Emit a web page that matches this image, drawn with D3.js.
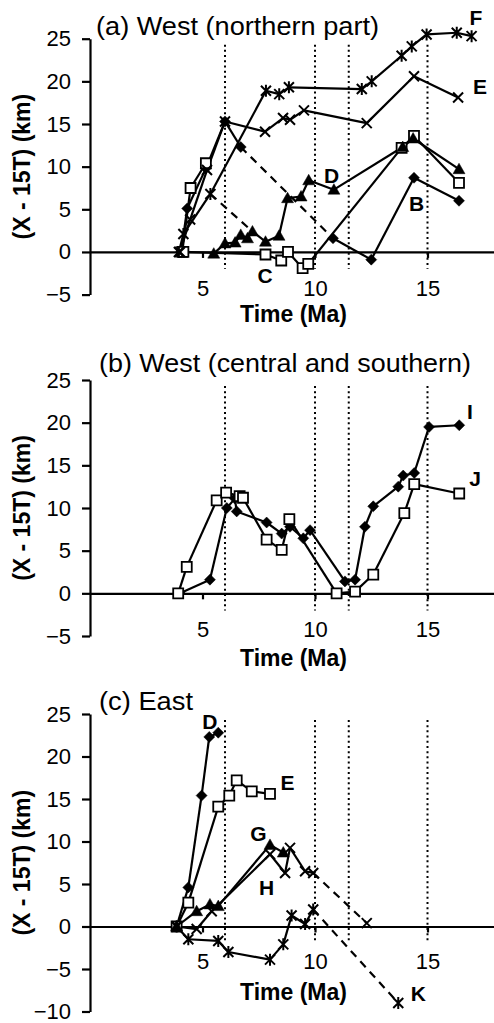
<!DOCTYPE html>
<html>
<head>
<meta charset="utf-8">
<script src="https://cdn.jsdelivr.net/npm/d3@7"></script>
<style>
  body { margin: 0; background: #fff; }
  text { font-family: "Liberation Sans", Arial, Helvetica, sans-serif; fill: #000; }
</style>
</head>
<body>
<svg width="494" height="1023"></svg>
<script>
// ---- data: [time (Ma), X - 15T (km), 1 = dashed segment from previous point]
// (a) West (northern part)
var aB = [[4.05, 0], [4.32, 5.1], [5.15, 9.8], [6.0, 15.3], [6.7, 12.3], [10.8, 1.6, 1], [12.5, -0.9], [14.4, 8.7], [16.4, 6.0]];
var aC1 = [[4.1, 0], [4.47, 7.5], [5.15, 10.4]];
var aC2 = [[4.15, 0], [7.8, -0.3], [8.5, -1.0], [8.8, 0.0], [9.45, -1.9], [9.7, -1.4], [13.85, 12.2], [14.4, 13.6], [16.4, 8.1]];
var aD = [[5.5, -0.2], [6.0, 1.0], [6.45, 1.1], [6.7, 2.0], [7.0, 1.6], [7.22, 2.4], [7.8, 1.2], [8.4, 1.9], [8.78, 6.3], [9.38, 6.5], [9.72, 8.4], [10.84, 7.3], [13.9, 12.3], [14.36, 13.3], [16.4, 9.7]];
var aE = [[4.0, 0], [4.45, 3.8], [5.2, 9.6], [6.0, 15.3], [7.78, 14.1], [8.58, 15.7], [8.89, 15.5], [9.51, 16.6], [12.3, 15.1], [14.4, 20.6], [16.36, 18.1]];
var aF = [[3.95, 0], [4.15, 2.1], [5.35, 6.8], [7.82, 18.9], [8.41, 18.5], [8.84, 19.3], [12.08, 19.1], [12.52, 20.0], [13.85, 23.0], [14.3, 24.1], [14.96, 25.5], [16.3, 25.7], [16.96, 25.3]];
var aLink = [[5.35, 6.8], [7.22, 2.4, 1]];
var aLetters = [['F', 17.15, 27.5], ['E', 17.33, 19.4], ['D', 10.74, 9.0], ['B', 14.52, 5.7], ['C', 7.78, -2.8]];

// (b) West (central and southern)
var bI = [[4.0, 0], [5.33, 1.6], [6.08, 10.0], [6.44, 11.1], [6.52, 9.6], [7.85, 8.3], [8.52, 7.0], [8.89, 7.8], [9.48, 6.45], [9.78, 7.4], [11.33, 1.4], [11.78, 1.6], [12.22, 7.8], [12.59, 10.2], [13.7, 12.5], [13.92, 13.8], [14.41, 14.1], [15.07, 19.5], [16.41, 19.7]];
var bJ = [[3.92, 0], [4.3, 3.1], [5.63, 10.9], [6.05, 11.8], [6.65, 11.4], [6.8, 11.2], [7.85, 6.3], [8.52, 5.1], [8.86, 8.7], [10.96, 0], [11.78, 0.2], [12.59, 2.2], [13.97, 9.4], [14.41, 12.8], [16.41, 11.7]];
var bLetters = [['I', 16.89, 21.3], ['J', 17.11, 13.5]];

// (c) East
var cD = [[3.85, 0], [4.37, 4.6], [4.96, 15.4], [5.3, 22.3], [5.7, 22.8]];
var cE = [[3.85, 0], [4.37, 2.8], [5.7, 14.1], [6.19, 15.4], [6.52, 17.2], [7.19, 15.9], [8.0, 15.6]];
var cG = [[3.85, 0], [4.74, 1.8], [5.33, 2.6], [5.7, 2.4], [8.0, 9.6], [8.59, 8.7]];
var cH = [[3.85, 0], [4.74, -0.3], [5.41, 1.8], [8.0, 8.5], [8.67, 6.3], [8.89, 9.25], [9.56, 6.5], [9.92, 6.3], [12.3, 0.4, 1]];
var cK = [[3.85, 0], [4.37, -1.5], [5.7, -1.7], [6.15, -3.0], [8.0, -3.9], [8.59, -2.1], [8.96, 1.3], [9.56, 0.3], [9.92, 2.0], [13.7, -9.0, 1]];
var cLetters = [['D', 5.33, 24.1], ['E', 8.78, 17.0], ['G', 7.48, 11.0], ['H', 7.85, 4.6], ['K', 14.59, -7.9]];

var eventTimes = [6, 10, 11.5, 15];
var xTicks = [5, 10, 15];

var panels = [
  { title: '(a) West (northern part)', titleX: 96, titleY: 35, titleW: 283, yDomain: [-5, 25], yRange: [294.6, 38.7], tickDy: 44, labelDy: 70,
    series: [[aB, 'diamond'], [aC1, 'square'], [aC2, 'square'], [aD, 'triangle'], [aE, 'cross'], [aF, 'asterisk'], [aLink, 'none']],
    letters: aLetters },
  { title: '(b) West (central and southern)', titleX: 99, titleY: 372, titleW: 372, yDomain: [-5, 25], yRange: [636, 380], tickDy: 44, labelDy: 73,
    series: [[bI, 'diamond'], [bJ, 'square']],
    letters: bLetters },
  { title: '(c) East', titleX: 99, titleY: 710, titleW: 94, yDomain: [-10, 25], yRange: [1011.5, 714], tickDy: 42, labelDy: 73,
    series: [[cD, 'diamond'], [cE, 'square'], [cG, 'triangle'], [cH, 'cross'], [cK, 'asterisk']],
    letters: cLetters }
];

var svg = d3.select('svg');
var xScale = d3.scaleLinear().domain([0, 18]).range([90, 495]);

function markerPath(type) {
  if (type == 'diamond') return 'M0,-5.5L5.5,0L0,5.5L-5.5,0Z';
  if (type == 'square') return 'M-5,-5H5V5H-5Z';
  if (type == 'triangle') return 'M0,-6L6,4.5L-6,4.5Z';
  if (type == 'cross') return 'M-5,-5L5,5M-5,5L5,-5';
  if (type == 'asterisk') return 'M-5,-5L5,5M-5,5L5,-5M0,-6V6';
  return null;
}

panels.forEach(function(p) {
  var yScale = d3.scaleLinear().domain(p.yDomain).range(p.yRange);
  var g = svg.append('g');

  // event lines
  g.selectAll('.event')
    .data(eventTimes)
    .enter()
    .append('line')
    .attr('x1', d => xScale(d))
    .attr('x2', d => xScale(d))
    .attr('y1', yScale(24.3))
    .attr('y2', yScale(-2))
    .attr('stroke', '#000')
    .attr('stroke-width', 2)
    .attr('stroke-dasharray', '2,3.2');

  // y axis
  var yAxisG = g.append('g')
    .attr('transform', 'translate(' + xScale(0) + ',0)')
    .call(d3.axisLeft(yScale).tickValues(d3.range(p.yDomain[0], 26, 5)).tickSize(8).tickSizeOuter(0).tickPadding(11));
  yAxisG.selectAll('path, line').attr('stroke', '#000').attr('stroke-width', 2.2);
  yAxisG.selectAll('text').attr('font-size', 22).style('font-family', '"Liberation Sans", Arial, sans-serif');

  // x axis at zero
  var xAxisG = g.append('g')
    .attr('transform', 'translate(0,' + yScale(0) + ')')
    .call(d3.axisBottom(xScale).tickValues(xTicks).tickSize(6).tickSizeOuter(0).tickPadding(p.tickDy - 6 - 15.6));
  xAxisG.selectAll('path, line').attr('stroke', '#000').attr('stroke-width', 2.2);
  xAxisG.selectAll('text').attr('font-size', 22).style('font-family', '"Liberation Sans", Arial, sans-serif');

  // titles
  g.append('text')
    .text(p.title)
    .attr('x', p.titleX)
    .attr('y', p.titleY)
    .attr('font-size', 25)
    .attr('textLength', p.titleW)
    .attr('lengthAdjust', 'spacingAndGlyphs');
  g.append('text')
    .text('Time (Ma)')
    .attr('x', 293.5)
    .attr('y', yScale(0) + p.labelDy)
    .attr('text-anchor', 'middle')
    .attr('font-size', 23)
    .attr('font-weight', 'bold');
  g.append('text')
    .text('(X - 15T) (km)')
    .attr('transform', 'translate(30,' + yScale((p.yDomain[0] + 25) / 2) + ') rotate(-90)')
    .attr('text-anchor', 'middle')
    .attr('font-size', 23)
    .attr('font-weight', 'bold');

  // series lines
  p.series.forEach(function(s) {
    var pts = s[0];
    for (var i = 1; i < pts.length; i++) {
      g.append('line')
        .attr('x1', xScale(pts[i - 1][0]))
        .attr('y1', yScale(pts[i - 1][1]))
        .attr('x2', xScale(pts[i][0]))
        .attr('y2', yScale(pts[i][1]))
        .attr('stroke', '#000')
        .attr('stroke-width', 2.2)
        .attr('stroke-dasharray', pts[i][2] ? '8,6' : null);
    }
  });

  // series markers
  p.series.forEach(function(s) {
    var type = s[1];
    if (type == 'none') return;
    var filled = type == 'diamond' || type == 'triangle';
    var open = type == 'square';
    g.selectAll('.m')
      .data(s[0])
      .enter()
      .append('path')
      .attr('transform', d => 'translate(' + [xScale(d[0]), yScale(d[1])] + ')')
      .attr('d', markerPath(type))
      .attr('fill', filled ? '#000' : (open ? '#fff' : 'none'))
      .attr('stroke', '#000')
      .attr('stroke-width', open ? 1.8 : (filled ? 0.5 : 2));
  });

  // series letters
  g.selectAll('.letter')
    .data(p.letters)
    .enter()
    .append('text')
    .text(d => d[0])
    .attr('x', d => xScale(d[1]))
    .attr('y', d => yScale(d[2]))
    .attr('dy', '0.36em')
    .attr('text-anchor', 'middle')
    .attr('font-size', 21)
    .attr('font-weight', 'bold');
});
</script>
</body>
</html>
